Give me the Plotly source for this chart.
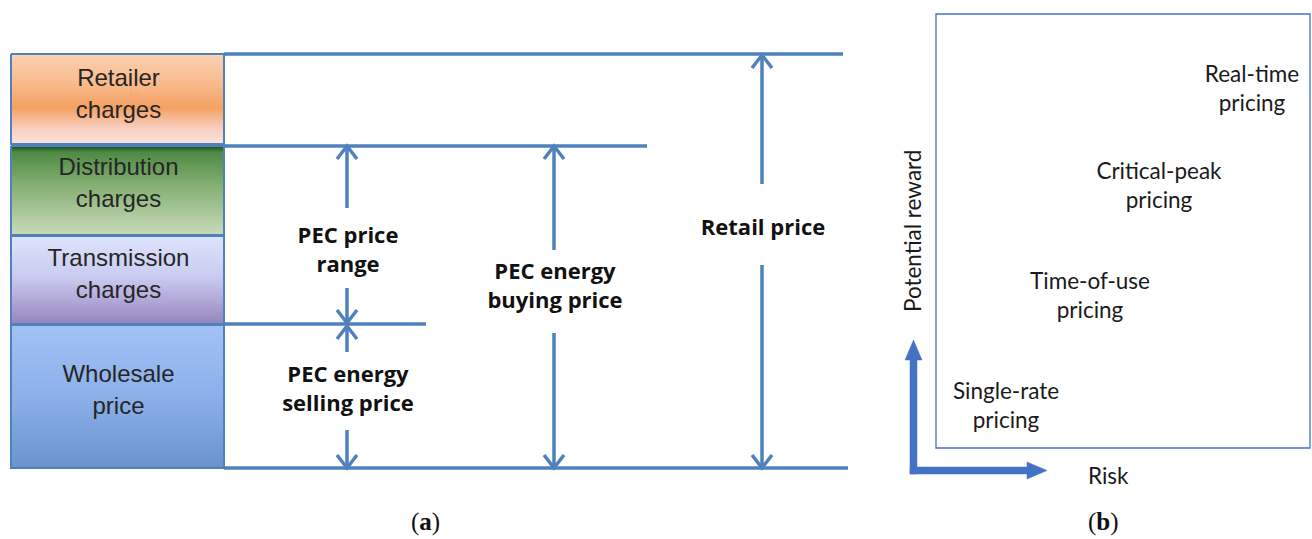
import math
import plotly.graph_objects as go

W, H = 1312, 539
LINE_BLUE = "#4f81bd"
AXIS_BLUE = "#4472c4"

# ---- panel (a): price components, stacked (pixel rows) ----
band_labels = ["Retailer<br>charges", "Distribution<br>charges",
               "Transmission<br>charges", "Wholesale<br>price"]
band_top = [54, 146, 236, 325]
band_bottom = [144, 235, 324, 468]
band_text_y = [96, 185, 276, 392]
# colour stops listed top -> bottom
band_gradients = [
    [[0, "#fbd2b4"], [0.35, "#f8b888"], [0.6, "#f5a163"], [0.82, "#f8cdbd"], [1, "#fae4e2"]],
    [[0, "#1b4d1b"], [0.07, "#4e8a44"], [0.45, "#86b074"], [1, "#c8dbba"]],
    [[0, "#dde3fb"], [0.45, "#cacdf1"], [0.8, "#ab9fd2"], [1, "#9484bd"]],
    [[0, "#a2c2f5"], [0.5, "#8cb0ea"], [1, "#6a93ce"]],
]
band_x = [11, 224]

# price levels (horizontal lines starting at the bar edge)
level_y = [54, 146, 324, 468]
level_end = [843, 647, 426, 848]

# dimension arrows: x, top, bottom, label gap, label
dim_x = [347, 347, 554, 762]
dim_top = [146, 326, 146, 55]
dim_bottom = [323, 468, 468, 468]
dim_gap = [(208, 288), (352, 430), (250, 333), (184, 265)]
dim_labels = ["PEC price<br>range", "PEC energy<br>selling price",
              "PEC energy<br>buying price", "Retail price"]
dim_label_y = [252, 391, 288, 229]

# ---- panel (b): tariff schemes, risk vs reward ----
scheme_labels = ["Single-rate<br>pricing", "Time-of-use<br>pricing",
                 "Critical-peak<br>pricing", "Real-time<br>pricing"]
scheme_x = [1006, 1090, 1159, 1252]
scheme_y = [408, 298, 188, 91]
box_b = [936, 14, 1310, 448]


def block_arrow(x0, y0, x1, y1, shaft=7, head_w=17, head_len=20):
    """Polygon of a filled block arrow from (x0,y0) to (x1,y1)."""
    L = math.hypot(x1 - x0, y1 - y0)
    ux, uy = (x1 - x0) / L, (y1 - y0) / L
    px, py = -uy, ux
    bx, by = x1 - ux * head_len, y1 - uy * head_len
    s, h = shaft / 2, head_w / 2
    pts = [(x0 + px * s, y0 + py * s), (bx + px * s, by + py * s),
           (bx + px * h, by + py * h), (x1, y1),
           (bx - px * h, by - py * h), (bx - px * s, by - py * s),
           (x0 - px * s, y0 - py * s), (x0 + px * s, y0 + py * s)]
    return [p[0] for p in pts], [p[1] for p in pts]


fig = go.Figure()

# stacked component bars with vertical gradients (y axis is reversed,
# so flip the stops to keep them top -> bottom on screen)
for lab, t, b, grad in zip(band_labels, band_top, band_bottom, band_gradients):
    flipped = sorted([[1 - s, c] for s, c in grad], key=lambda p: p[0])
    fig.add_trace(go.Scatter(
        x=[band_x[0], band_x[1], band_x[1], band_x[0], band_x[0]],
        y=[t, t, b, b, t],
        mode="lines", fill="toself",
        fillgradient=dict(type="vertical", colorscale=flipped),
        line=dict(color=LINE_BLUE, width=2),
        hoverinfo="skip", showlegend=False
    ))

fig.add_trace(go.Scatter(
    x=[(band_x[0] + band_x[1]) / 2 + 1] * len(band_labels),
    y=band_text_y, text=band_labels, mode="text",
    textfont=dict(family="Liberation Sans, Arial", size=24, color="#262626"),
    hoverinfo="skip", showlegend=False
))

# price level lines
lx, ly = [], []
for y, xe in zip(level_y, level_end):
    lx += [band_x[1], xe, None]
    ly += [y, y, None]
fig.add_trace(go.Scatter(x=lx, y=ly, mode="lines",
                         line=dict(color=LINE_BLUE, width=3.5),
                         hoverinfo="skip", showlegend=False))

# dimension arrows with open chevron heads
ax_, ay_ = [], []
hw, hl = 10, 13
for x, t, b, (g0, g1) in zip(dim_x, dim_top, dim_bottom, dim_gap):
    ax_ += [x, x, None, x, x, None]
    ay_ += [t, g0, None, g1, b, None]
    ax_ += [x - hw, x, x + hw, None, x - hw, x, x + hw, None]
    ay_ += [t + hl, t, t + hl, None, b - hl, b, b - hl, None]
fig.add_trace(go.Scatter(x=ax_, y=ay_, mode="lines",
                         line=dict(color=LINE_BLUE, width=3.5),
                         hoverinfo="skip", showlegend=False))

fig.add_trace(go.Scatter(
    x=[x + 1 for x in dim_x], y=dim_label_y, text=[f"<b>{s}</b>" for s in dim_labels],
    mode="text",
    textfont=dict(family="Open Sans, Lato", size=22, color="#111111"),
    hoverinfo="skip", showlegend=False
))

# panel (b) frame
fig.add_shape(type="rect", x0=box_b[0], y0=box_b[1], x1=box_b[2], y1=box_b[3],
              line=dict(color=AXIS_BLUE, width=1.3))

fig.add_trace(go.Scatter(
    x=scheme_x, y=scheme_y, text=scheme_labels, mode="text",
    textfont=dict(family="Lato, Open Sans", size=22.5, color="#1a1a1a"),
    hoverinfo="skip", showlegend=False
))

# risk / reward axis arrows
for (x0, y0, x1, y1) in [(913.5, 474, 913.5, 340), (910, 470.5, 1047, 470.5)]:
    px, py = block_arrow(x0, y0, x1, y1)
    fig.add_trace(go.Scatter(x=px, y=py, mode="lines", fill="toself",
                             fillcolor=AXIS_BLUE, line=dict(color=AXIS_BLUE, width=0.5),
                             hoverinfo="skip", showlegend=False))

fig.add_annotation(x=912, y=231, text="Potential reward", textangle=-90, showarrow=False,
                   font=dict(family="Lato, Open Sans", size=22.5, color="#1a1a1a"))
fig.add_annotation(x=1108, y=475, text="Risk", showarrow=False,
                   font=dict(family="Lato, Open Sans", size=22.5, color="#1a1a1a"))

# captions
for cx, letter in [(425, "a"), (1103, "b")]:
    fig.add_annotation(x=cx, y=522, text=f"(<b>{letter}</b>)", showarrow=False,
                       font=dict(family="Liberation Serif, Times New Roman", size=25, color="#111111"))

fig.update_xaxes(range=[0, W], visible=False, fixedrange=True)
fig.update_yaxes(range=[H, 0], visible=False, fixedrange=True)
fig.update_layout(width=W, height=H, margin=dict(l=0, r=0, t=0, b=0),
                  plot_bgcolor="white", paper_bgcolor="white")

fig.write_html("out.html", config={"displayModeBar": False},
               post_script="document.body.style.margin='0';")
